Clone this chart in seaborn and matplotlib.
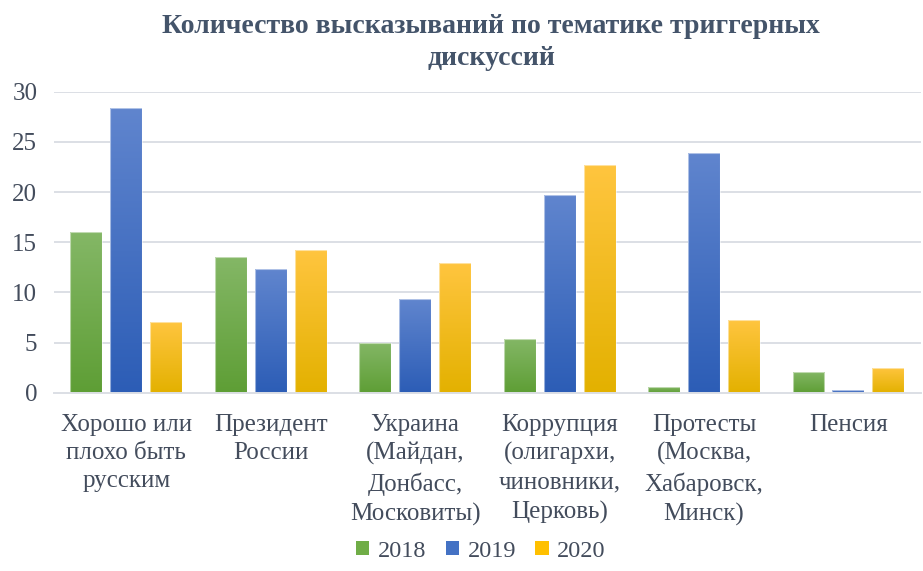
import numpy as np
import pandas as pd
import matplotlib
matplotlib.use("Agg")
import matplotlib.pyplot as plt
import seaborn as sns
from matplotlib.colors import LinearSegmentedColormap
from matplotlib.patches import Patch

categories = ["Хорошо или\nплохо быть\nрусским", "Президент\nРоссии",
              "Украина\n(Майдан,\nДонбасс,\nМосковиты)",
              "Коррупция\n(олигархи,\nчиновники,\nЦерковь)",
              "Протесты\n(Москва,\nХабаровск,\nМинск)", "Пенсия"]
years = ["2018", "2019", "2020"]
v2018 = [16, 13.5, 5, 5.4, 0.6, 2.1]
v2019 = [28.4, 12.3, 9.3, 19.7, 23.9, 0.25]
v2020 = [7.05, 14.2, 12.9, 22.7, 7.25, 2.5]
yticks = [0, 5, 10, 15, 20, 25, 30]
title = "Количество высказываний по тематике триггерных\nдискуссий"

base = {"2018": "#70AD47", "2019": "#4472C4", "2020": "#FFC000"}
grad = {"2018": ("#84B766", "#5E9E35"),
        "2019": ("#6085CE", "#2C5DB6"),
        "2020": ("#FFC53F", "#E3B100")}
txt = "#434C5C"

df = pd.DataFrame({
    "cat": categories * 3,
    "year": [y for y in years for _ in categories],
    "val": v2018 + v2019 + v2020,
})

sns.set_theme(style="white")
plt.rcParams['font.family'] = ['Liberation Serif', 'DejaVu Serif']

fig = plt.figure(figsize=(9.23, 5.71), dpi=100)
ax = fig.add_axes([0.0585, 0.3123, 0.939, 0.5271])
sns.barplot(data=df, x="cat", y="val", hue="year", order=categories,
            hue_order=years, palette=base, width=0.83, gap=0.2,
            ax=ax, legend=False, edgecolor="none", linewidth=0)

ax.set_yticks(yticks)
ax.yaxis.grid(True, color="#DCDFE5", linewidth=1.4)
ax.set_axisbelow(True)
for s in ["top", "right", "left"]:
    ax.spines[s].set_visible(False)
ax.spines["bottom"].set_color("#DCDFE5")
ax.spines["bottom"].set_linewidth(1.4)
ax.tick_params(axis="both", length=0, colors=txt, labelsize=18)
ax.tick_params(axis="x", pad=15)
ax.tick_params(axis="y", pad=12)
ax.set_xlabel("")
ax.set_ylabel("")
for lab in ax.get_xticklabels():
    lab.set_linespacing(1.38)
    lab.set_verticalalignment("top")

# gradient fill for bars
n = len(categories)
patches = list(ax.patches)
for i, p in enumerate(patches):
    yr = years[i // n]
    top, bot = grad[yr]
    cmap = LinearSegmentedColormap.from_list("g", [bot, top])
    x0, y0 = p.get_x(), p.get_y()
    w, h = p.get_width(), p.get_height()
    if h <= 0:
        continue
    img = ax.imshow(np.linspace(0, 1, 256).reshape(-1, 1), cmap=cmap,
                    origin="lower", extent=[x0, x0 + w, y0, y0 + h],
                    aspect="auto", zorder=p.get_zorder() + 0.1)
    img.set_clip_path(p)
    ax.add_patch(plt.Rectangle((x0, y0), w, h, fill=False,
                               edgecolor=(1, 1, 1, 0.5), linewidth=0.8,
                               zorder=p.get_zorder() + 0.2))
ax.set_xlim(-0.5, n - 0.5)
ax.set_ylim(0, 30)

fig.text(0.532, 0.975, title, ha="center", va="top", fontsize=20,
         fontweight="bold", color="#44546A", linespacing=1.38)

handles = [Patch(facecolor=base[y], edgecolor="none", label=y) for y in years]
fig.legend(handles=handles, loc="lower center", ncol=3, frameon=False,
           bbox_to_anchor=(0.521, -0.022), fontsize=17.5, handlelength=0.55,
           handleheight=0.55, handletextpad=0.35, columnspacing=0.8,
           labelcolor=txt)

fig.savefig("out.png", dpi=100)
